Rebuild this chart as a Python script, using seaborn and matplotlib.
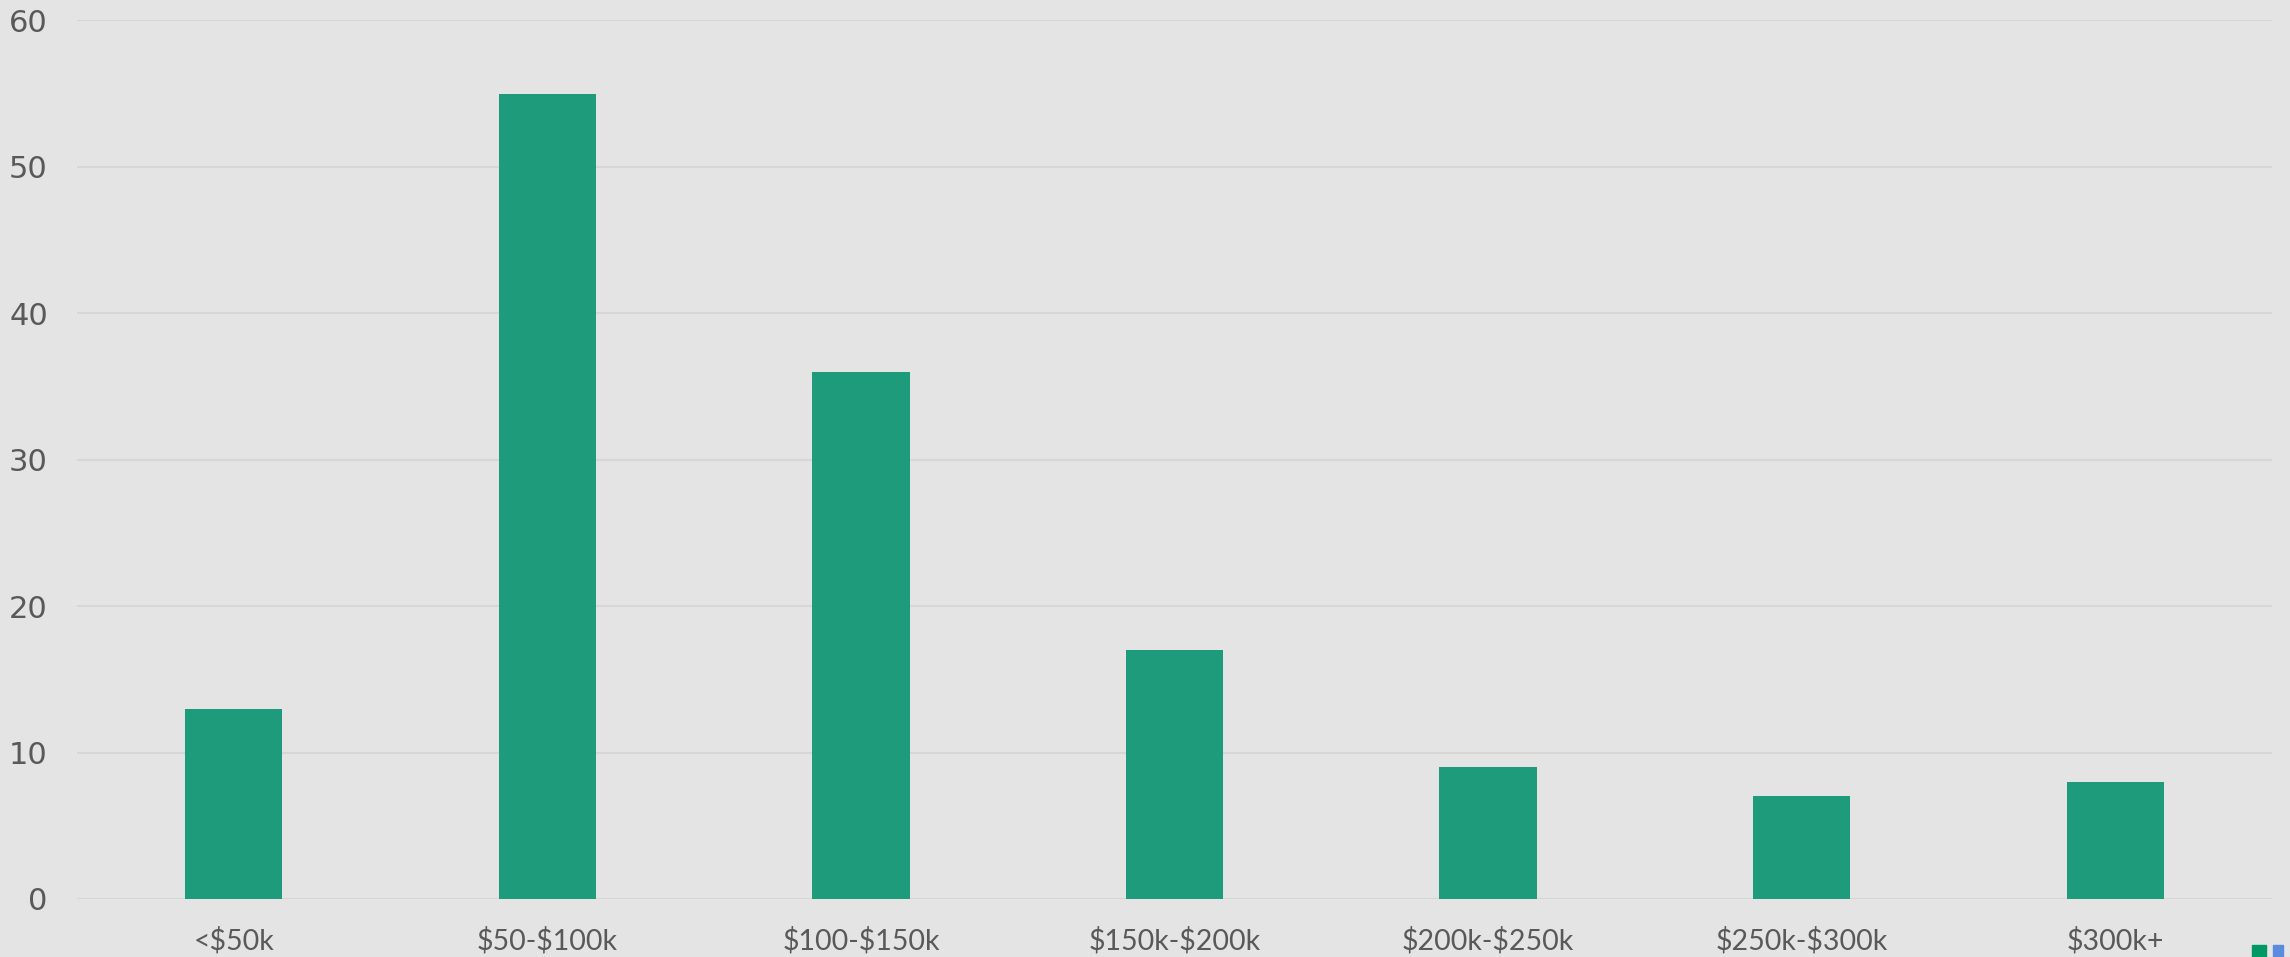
import matplotlib
matplotlib.use("Agg")
import matplotlib.pyplot as plt
import seaborn as sns
import pandas as pd
from matplotlib.patches import Rectangle

categories = ["<$50k", "$50-$100k", "$100-$150k", "$150k-$200k",
              "$200k-$250k", "$250k-$300k", "$300k+"]
counts = [13, 55, 36, 17, 9, 7, 8]
yticks = [0, 10, 20, 30, 40, 50, 60]

df = pd.DataFrame({"range": categories, "count": counts})

bg = "#e4e4e4"
sns.set_theme(style="whitegrid")
plt.rcParams["text.parse_math"] = False

fig = plt.figure(figsize=(22.9, 9.57), dpi=100, facecolor=bg)
ax = fig.add_axes([77 / 2290, 58 / 957, 2195 / 2290, (899 - 20.4) / 957])
ax.set_facecolor(bg)

sns.barplot(data=df, x="range", y="count", color="#1e9b7b",
            width=0.31, saturation=1, ax=ax, zorder=3,
            edgecolor="none", linewidth=0)

ax.set_ylim(0, 60)
ax.set_yticks(yticks)
ax.set_xlim(-0.5, len(categories) - 0.5)
ax.set_xlabel("")
ax.set_ylabel("")
ax.grid(axis="y", color="#d6d6d6", linewidth=1.5, zorder=0)
ax.grid(axis="x", visible=False)
for s in ax.spines.values():
    s.set_visible(False)

ax.tick_params(axis="y", length=0, pad=21, labelsize=22, labelcolor="#595959")
ax.tick_params(axis="x", length=0, pad=20, labelsize=20.5, labelcolor="#595959")
for lab in ax.get_yticklabels():
    lab.set_family("DejaVu Sans")
for lab in ax.get_xticklabels():
    lab.set_family("Lato")

# small marker squares in the bottom-right corner
fig.patches.append(Rectangle((2252 / 2290, 0), 14 / 2290, 12 / 957,
                             transform=fig.transFigure, color="#009966"))
fig.patches.append(Rectangle((2273 / 2290, 0), 10 / 2290, 12 / 957,
                             transform=fig.transFigure, color="#5b8bde"))

fig.savefig("out.png", dpi=100, facecolor=bg)
